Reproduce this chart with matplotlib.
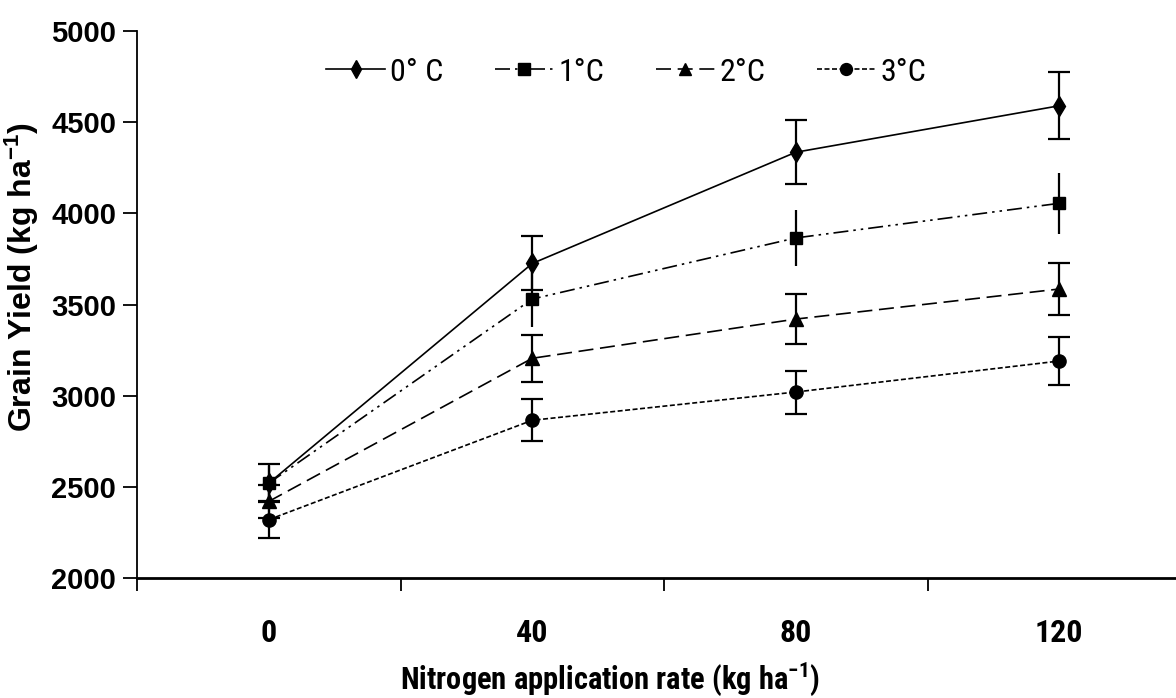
import matplotlib
matplotlib.use("Agg")
import matplotlib.pyplot as plt
import numpy as np

plt.rcParams['mathtext.default'] = 'regular'

# nitrogen rates (categories) and grain yield per warming level
nitrogen = ['0', '40', '80', '120']
labels = ['0° C', '1°C', '2°C', '3°C']
yield_0c = [2520, 3725, 4335, 4590]
yield_1c = [2520, 3530, 3865, 4055]
yield_2c = [2420, 3205, 3420, 3585]
yield_3c = [2320, 2865, 3020, 3190]
err_0c = [105, 148, 175, 184]
err_1c = [95, 155, 155, 167]
err_2c = [90, 130, 137, 143]
err_3c = [100, 115, 118, 132]

narrow = ['Roboto Condensed', 'Liberation Sans']
bold = ['Liberation Sans', 'DejaVu Sans']

fig = plt.figure(figsize=(11.76, 6.98), dpi=100)
ax = fig.add_axes([137/1176, 1 - 578/698, 1 - 137/1176, (578 - 31)/698])

x = np.arange(len(nitrogen))
series = [
    (yield_0c, err_0c, 'd', 10, '-', 8),
    (yield_1c, err_1c, 's', 9, (0, (9, 3, 1.5, 3, 1.5, 3)), 0),
    (yield_2c, err_2c, '^', 9.5, (0, (9, 4)), 8),
    (yield_3c, err_3c, 'o', 9.5, (0, (3, 1.5)), 8),
]
handles = []
for (vals, errs, mk, ms, ls, cap), lab in zip(series, labels):
    ax.errorbar(x, vals, yerr=errs, fmt='none', ecolor='black', elinewidth=1.6,
                capsize=cap, capthick=1.6, zorder=2)
    h, = ax.plot(x, vals, color='black', linestyle=ls, linewidth=1.2,
                 marker=mk, markersize=ms, markerfacecolor='black',
                 markeredgecolor='black', label=lab, zorder=3)
    handles.append(h)

ax.set_xlim(-0.5, 3.443)
ax.set_ylim(2000, 5000)
ax.set_yticks(np.arange(2000, 5001, 500))
ax.set_xticks(x)
ax.set_xticklabels(nitrogen, family=narrow, fontweight='bold', fontsize=23)
ax.set_xticks([-0.5, 0.5, 1.5, 2.5], minor=True)
ax.tick_params(axis='x', which='major', length=0, pad=29)
ax.tick_params(axis='x', which='minor', length=9, width=1.3, direction='out')
ax.tick_params(axis='y', length=10, width=1.3, direction='out', pad=5)
for t in ax.get_yticklabels():
    t.set_family(bold)
    t.set_fontweight('bold')
    t.set_fontsize(21)

for s in ['top', 'right']:
    ax.spines[s].set_visible(False)
ax.spines['left'].set_linewidth(1.3)
ax.spines['bottom'].set_linewidth(2.0)

ax.set_xlabel('Nitrogen application rate (kg ha$^{-1}$)', family=narrow,
              fontweight='bold', fontsize=22)
ax.xaxis.set_label_coords(0.455, -0.152)
ax.set_ylabel('Grain Yield (kg ha$^{-1}$)', family=bold, fontweight='bold',
              fontsize=23)
ax.yaxis.set_label_coords(-0.092, 0.55)

ax.legend(handles=handles, loc='center', bbox_to_anchor=(0.471, 0.925),
          ncol=4, frameon=False, prop={'family': narrow, 'size': 23},
          handlelength=1.85, handletextpad=0.15, columnspacing=1.6,
          markerscale=0.9)

fig.savefig('out.png', dpi=100)
